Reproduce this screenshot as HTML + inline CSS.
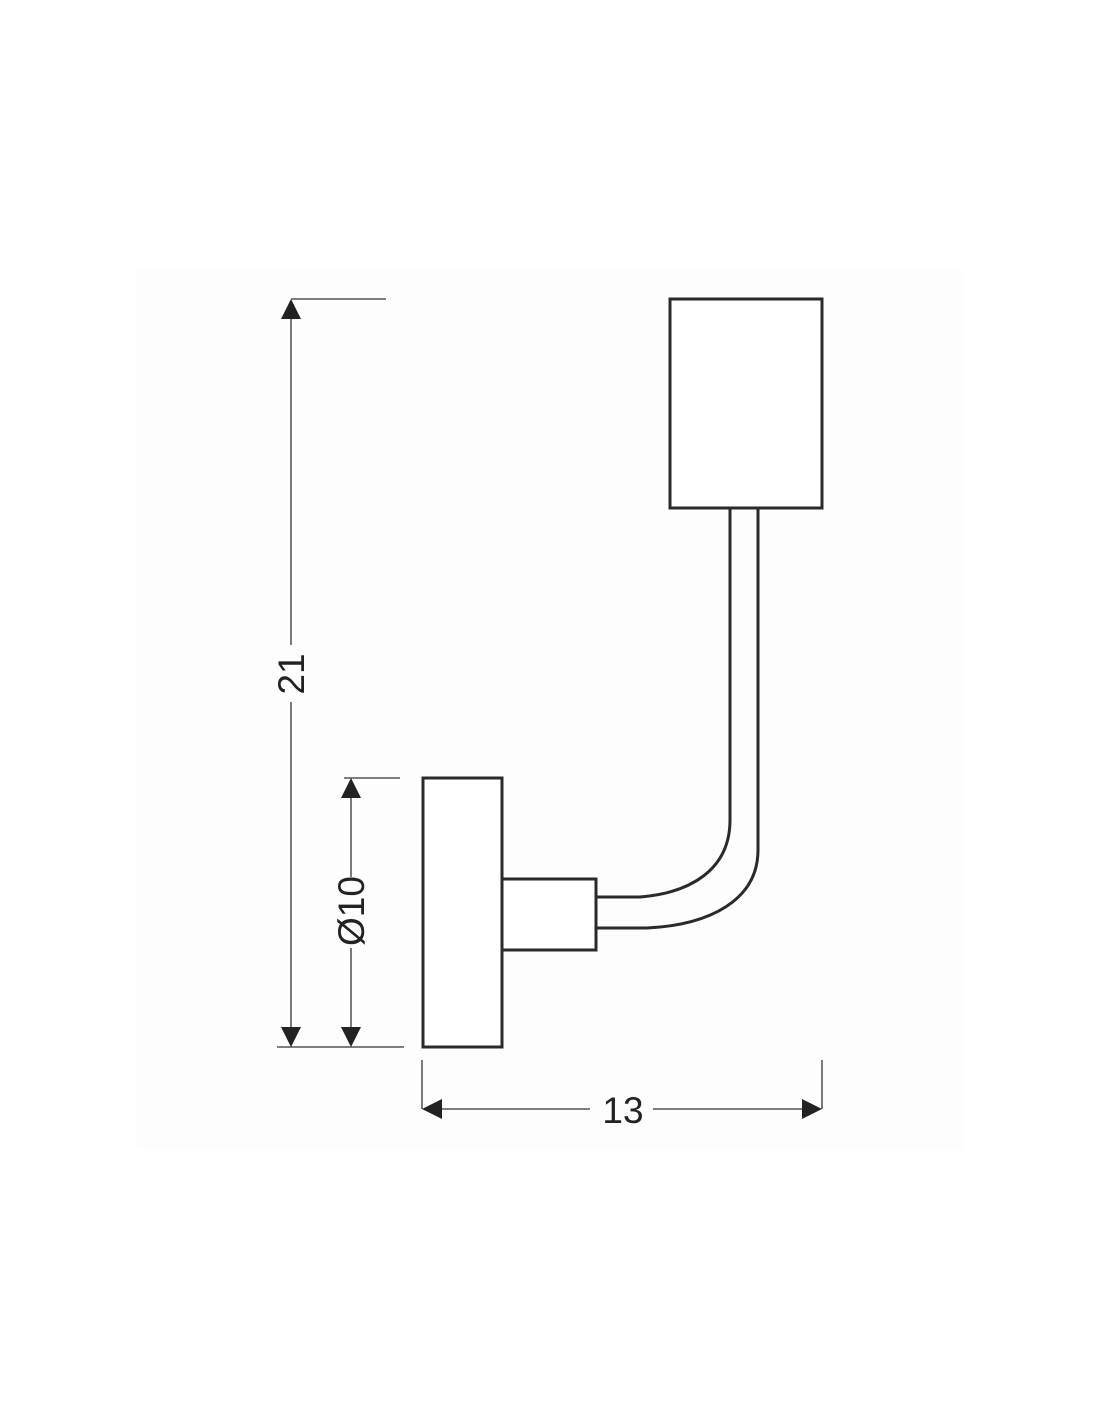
<!DOCTYPE html>
<html><head><style>html,body{margin:0;padding:0;background:#fff}</style></head><body>
<svg width="1100" height="1422" viewBox="0 0 1100 1422" xmlns="http://www.w3.org/2000/svg">
<rect x="137" y="270" width="825" height="880" fill="#fdfdfd"/>
<g fill="none" stroke="#2a2a2a" stroke-width="3">
<rect x="670" y="299" width="152" height="209" fill="#fff"/>
<rect x="423" y="778" width="79" height="269" fill="#fff"/>
<rect x="502" y="879" width="94" height="71" fill="#fff"/>
<path d="M730 508 V820 C730 870 690 893 640 897 H596"/>
<path d="M758 508 V850 C758 900 710 925 647 928 H596"/>
</g>
<g stroke="#333" stroke-width="1.3" fill="none">
<line x1="291" y1="299" x2="386" y2="299"/>
<line x1="277" y1="1047" x2="404" y2="1047"/>
<line x1="344" y1="778" x2="400" y2="778"/>
<line x1="291" y1="318" x2="291" y2="645"/>
<line x1="291" y1="702" x2="291" y2="1028"/>
<line x1="351" y1="797" x2="351" y2="877"/>
<line x1="351" y1="948" x2="351" y2="1028"/>
<line x1="422" y1="1060" x2="422" y2="1109"/>
<line x1="822" y1="1060" x2="822" y2="1109"/>
<line x1="442" y1="1109" x2="590" y2="1109"/>
<line x1="653" y1="1109" x2="802" y2="1109"/>
</g>
<g fill="#222">
<polygon points="291,299 281,319 301,319"/>
<polygon points="291,1047 281,1027 301,1027"/>
<polygon points="351,778 341,798 361,798"/>
<polygon points="351,1047 341,1027 361,1027"/>
<polygon points="422,1109 442,1099 442,1119"/>
<polygon points="822,1109 802,1099 802,1119"/>
</g>
<g font-family="Liberation Sans, sans-serif" font-size="37" fill="#222" text-anchor="middle">
<text x="623" y="1123">13</text>
<text transform="translate(304,674) rotate(-90)">21</text>
<text transform="translate(364,911) rotate(-90)">Ø10</text>
</g>
</svg>
</body></html>
